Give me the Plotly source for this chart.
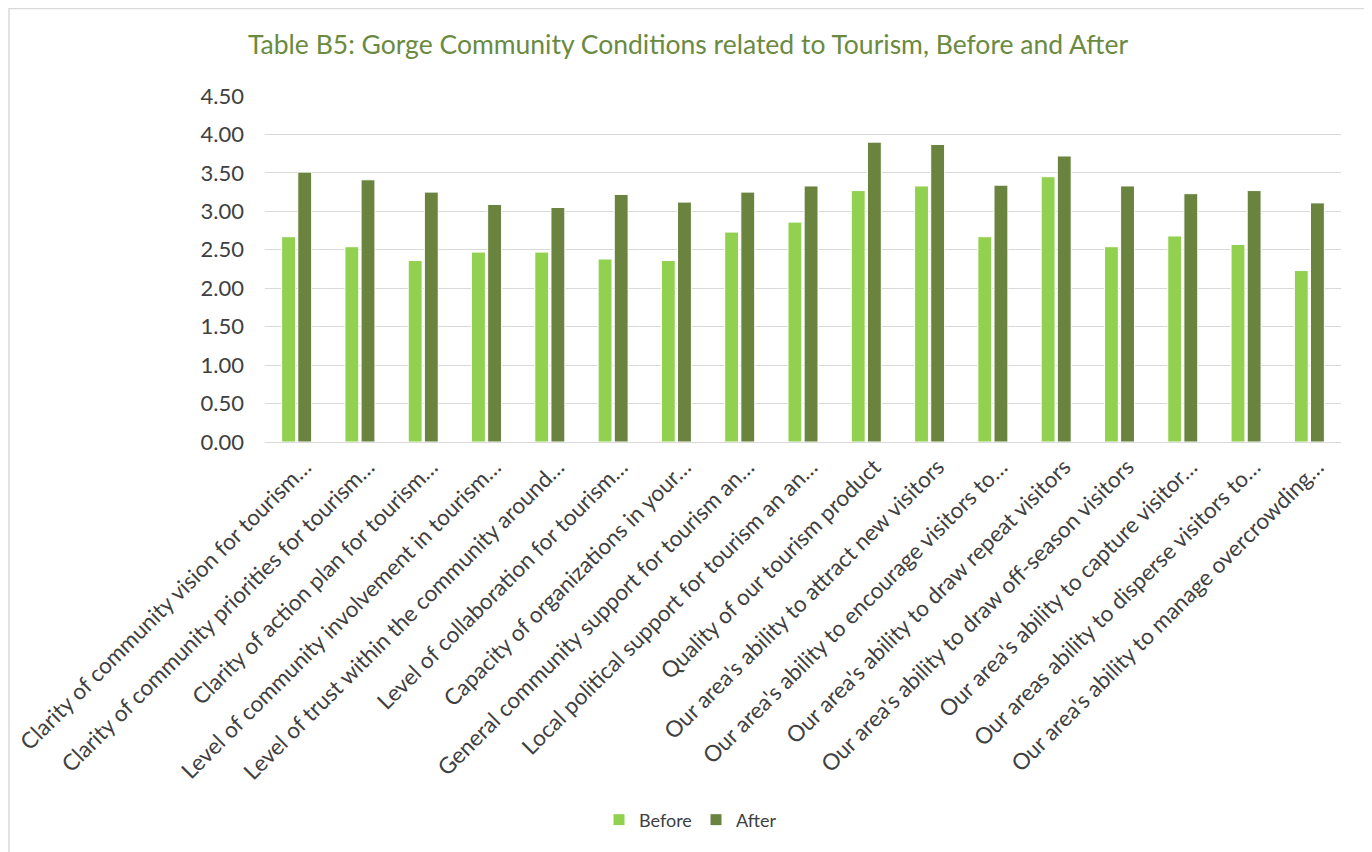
import plotly.graph_objects as go

categories = [
    "Clarity of community vision for tourism…",
    "Clarity of community priorities for tourism…",
    "Clarity of action plan for tourism…",
    "Level of community involvement in tourism…",
    "Level of trust within the community around…",
    "Level of collaboration for tourism…",
    "Capacity of organizations in your…",
    "General community support for tourism an…",
    "Local political support for tourism an an…",
    "Quality of our tourism product",
    "Our area's ability to attract new visitors",
    "Our area's ability to encourage visitors to…",
    "Our area's ability to draw repeat visitors",
    "Our area's ability to draw off-season visitors",
    "Our area's ability to capture visitor…",
    "Our areas ability to disperse visitors to…",
    "Our area's ability to manage overcrowding…",
]
before = [2.67, 2.54, 2.36, 2.47, 2.47, 2.38, 2.36, 2.73, 2.86, 3.27, 3.33, 2.67, 3.45, 2.54, 2.68, 2.57, 2.23]
after = [3.51, 3.41, 3.25, 3.09, 3.05, 3.22, 3.12, 3.25, 3.33, 3.90, 3.87, 3.34, 3.72, 3.33, 3.23, 3.27, 3.11]
y_ticks = [0, 0.5, 1, 1.5, 2, 2.5, 3, 3.5, 4, 4.5]

FONT = "Lato, 'Liberation Sans', Arial, sans-serif"
C_BEFORE = "#92D050"
C_AFTER = "#6A8440"

# target plot area on the page: x 265-1341, y 96-442 (page body adds an 8px offset)
PX0, PX1, PY0, PY1 = 265, 1341, 96, 442
PW, PH = PX1 - PX0, PY1 - PY0

fig = go.Figure()
fig.add_trace(go.Bar(name="Before", x=categories, y=before,
                     marker=dict(color=C_BEFORE, line=dict(color="#FFFFFF", width=1))))
fig.add_trace(go.Bar(name="After", x=categories, y=after,
                     marker=dict(color=C_AFTER, line=dict(color="#FFFFFF", width=1))))

fig.update_layout(
    width=1372, height=852,
    margin=dict(l=PX0 - 8, r=1372 - (PX1 - 8), t=PY0 - 8, b=852 - (PY1 - 8), autoexpand=False),
    paper_bgcolor="white", plot_bgcolor="white",
    barmode="group", bargap=0.49, bargroupgap=0.14,
    font=dict(family=FONT, color="#404040"),
    title=dict(text="Table B5: Gorge Community Conditions related to Tourism, Before and After",
               x=(688 - 8) / 1372, xanchor="center", y=1 - 37 / 852, yanchor="middle",
               font=dict(family=FONT, size=26.5, color="#6A8A3F")),
    showlegend=True,
    legend=dict(orientation="h", x=(696 - PX0) / PW, xanchor="center",
                y=-(820 - PY1) / PH, yanchor="middle", entrywidth=52,
                font=dict(size=18, color="#404040"), traceorder="normal"),
    xaxis=dict(tickangle=-45, tickfont=dict(size=22.5, color="#404040"),
               showgrid=False, showline=True, linecolor="#D9D9D9", linewidth=1,
               ticks="", ticklabelstandoff=2, ticklabelshift=8, automargin=False),
    yaxis=dict(range=[0, 4.5], tickvals=y_ticks, tickformat=".2f",
               tickfont=dict(size=22, color="#404040"),
               showgrid=True, gridcolor="#D9D9D9", gridwidth=1,
               zeroline=False, showline=False, ticks="", ticklabelstandoff=20, automargin=False),
    shapes=[dict(type="rect", xref="paper", yref="paper",
                 x0=(9 - PX0) / PW, x1=(1369 - PX0) / PW,
                 y0=-1.3, y1=(PY1 - 8.5) / PH,
                 line=dict(color="#D9D9D9", width=1.5), layer="below")],
)

fig.write_html("out.html")
